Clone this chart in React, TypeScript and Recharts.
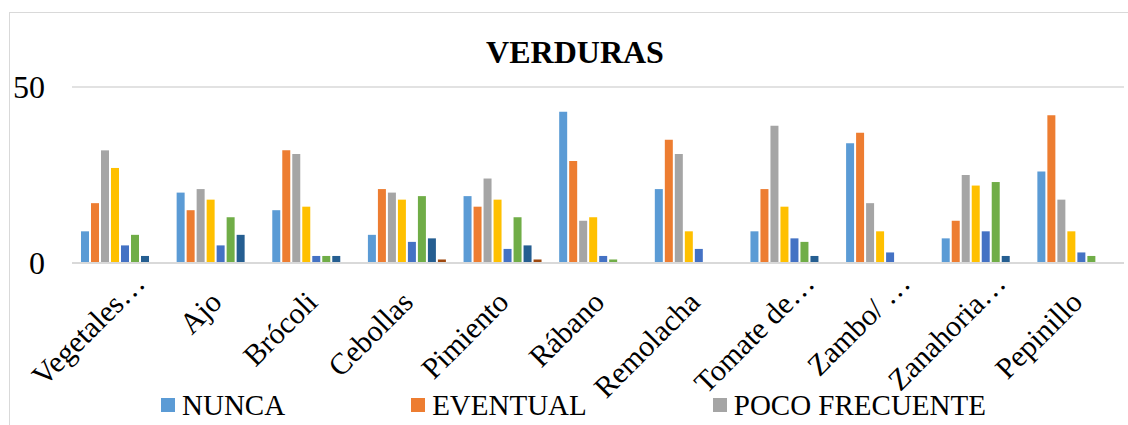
import { BarChart, Bar, XAxis, YAxis, CartesianGrid, Legend } from "recharts";

const categories = [
  "Vegetales…", "Ajo", "Brócoli", "Cebollas", "Pimiento", "Rábano",
  "Remolacha", "Tomate de…", "Zambo/ …", "Zanahoria…", "Pepinillo"
];

const nunca = [9, 20, 15, 8, 19, 43, 21, 9, 34, 7, 26];
const eventual = [17, 15, 32, 21, 16, 29, 35, 21, 37, 12, 42];
const pocoFrecuente = [32, 21, 31, 20, 24, 12, 31, 39, 17, 25, 18];
const frecuente = [27, 18, 16, 18, 18, 13, 9, 16, 9, 22, 9];
const muyFrecuente = [5, 5, 2, 6, 4, 2, 4, 7, 3, 9, 3];
const semanal = [8, 13, 2, 19, 13, 1, 0, 6, 0, 23, 2];
const diario = [2, 8, 2, 7, 5, 0, 0, 2, 0, 2, 0];
const otro = [0, 0, 0, 1, 1, 0, 0, 0, 0, 0, 0];

const yTicks = [0, 50];

const series = [
  { key: "nunca", name: "NUNCA", color: "#5B9BD5", values: nunca, shown: true },
  { key: "eventual", name: "EVENTUAL", color: "#ED7D31", values: eventual, shown: true },
  { key: "poco", name: "POCO FRECUENTE", color: "#A5A5A5", values: pocoFrecuente, shown: true },
  { key: "frecuente", name: "FRECUENTE", color: "#FFC000", values: frecuente, shown: false },
  { key: "muy", name: "MUY FRECUENTE", color: "#4472C4", values: muyFrecuente, shown: false },
  { key: "semanal", name: "SEMANAL", color: "#70AD47", values: semanal, shown: false },
  { key: "diario", name: "DIARIO", color: "#255E91", values: diario, shown: false },
  { key: "otro", name: "OTRO", color: "#9E480E", values: otro, shown: false }
];

const data = categories.map((name, i) => {
  const row: Record<string, string | number> = { name };
  series.forEach((s) => (row[s.key] = s.values[i]));
  return row;
});

const font = "'Liberation Serif', 'Times New Roman', serif";

function CategoryTick({ x, y, payload }: any) {
  // truncated labels sit further up the diagonal, like in Excel
  const shift = String(payload.value).endsWith("…") ? 19 : 0;
  const tx = x + 8 + shift;
  const ty = y + 39 - shift;
  return (
    <text x={tx} y={ty} textAnchor="end" fill="#000"
      style={{ fontFamily: font, fontSize: 30 }}
      transform={`rotate(-45, ${tx}, ${ty})`}>
      {payload.value}
    </text>
  );
}

function ValueTick({ x, y, payload }: any) {
  return (
    <text x={x} y={y} dy={11} textAnchor="end" fill="#000" style={{ fontFamily: font, fontSize: 32 }}>
      {payload.value}
    </text>
  );
}

function LegendBox() {
  return (
    <div style={{ display: "flex", alignItems: "center", height: 30, paddingLeft: 161, gap: 126, fontFamily: font, fontSize: 29, lineHeight: "30px", color: "#000" }}>
      {series.filter((s) => s.shown).map((s) => (
        <div key={s.key} style={{ display: "flex", alignItems: "center", whiteSpace: "nowrap" }}>
          <span style={{ width: 14, height: 14, background: s.color, marginRight: 7, display: "inline-block" }} />
          <span style={{ fontFamily: font }}>{s.name}</span>
        </div>
      ))}
    </div>
  );
}

export default function App() {
  return (
    <div style={{ position: "absolute", left: 0, top: 0, width: 1128, height: 425, background: "#fff", overflow: "hidden", fontFamily: font }}>
      <div style={{ position: "absolute", left: 9, top: 12, width: 1140, height: 440, border: "1px solid #d9d9d9" }} />
      <div style={{ position: "absolute", left: 425, top: 36, width: 300, textAlign: "center", fontSize: 32, lineHeight: "32px", fontWeight: "bold", color: "#000" }}>
        VERDURAS
      </div>
      <BarChart width={1128} height={425} data={data} barSize={8} barGap={2}
        margin={{ top: 87, right: 4, bottom: 0, left: 0 }}>
        <CartesianGrid vertical={false} stroke="#d9d9d9" strokeWidth={1.5} />
        <XAxis dataKey="name" interval={0} height={132} tickSize={0} tickLine={false}
          axisLine={{ stroke: "#d9d9d9", strokeWidth: 2 }} tick={<CategoryTick />} />
        <YAxis width={72} domain={[0, 50]} ticks={yTicks} axisLine={false} tickLine={false}
          tickSize={0} tickMargin={27} tick={<ValueTick />} />
        <Legend content={<LegendBox />} wrapperStyle={{ top: 390, left: 0, bottom: "auto", width: 1128 }} />
        {series.map((s) => (
          <Bar key={s.key} dataKey={s.key} name={s.name} fill={s.color}
            legendType={s.shown ? "square" : "none"} isAnimationActive={false} />
        ))}
      </BarChart>
    </div>
  );
}
